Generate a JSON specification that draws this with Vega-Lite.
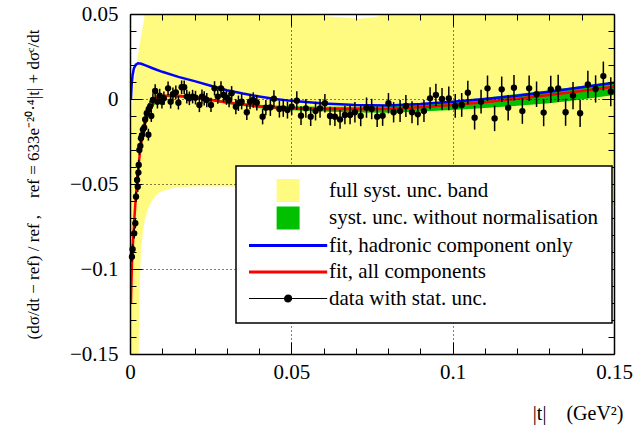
{
  "$schema": "https://vega.github.io/schema/vega-lite/v6.json",
  "width": 484,
  "height": 340,
  "autosize": {"type": "none"},
  "padding": {"left": 130, "top": 14, "right": 30, "bottom": 73},
  "background": "white",
  "config": {
    "view": {"stroke": null},
    "font": "Liberation Serif",
    "axis": {
      "domainColor": "black", "domainWidth": 1.5, "tickColor": "black", "tickWidth": 1,
      "labelFont": "Liberation Serif", "labelFontSize": 21, "labelColor": "black",
      "titleFont": "Liberation Serif", "titleFontWeight": "normal", "titleColor": "black",
      "gridColor": "black", "gridDash": [1, 3], "gridWidth": 1, "zindex": 1,
      "labelFlush": false, "labelOverlap": false, "labelBound": false
    }
  },
  "datasets": {
    "band": [
      {"t": 0.0001, "lo": -0.2, "hi": -0.15},
      {"t": 0.0003, "lo": -0.2, "hi": -0.03},
      {"t": 0.0008, "lo": -0.2, "hi": 0.0},
      {"t": 0.0015, "lo": -0.2, "hi": 0.013},
      {"t": 0.0022, "lo": -0.2, "hi": 0.022},
      {"t": 0.0025, "lo": -0.16, "hi": 0.026},
      {"t": 0.0027, "lo": -0.148, "hi": 0.028},
      {"t": 0.0029, "lo": -0.118, "hi": 0.031},
      {"t": 0.0032, "lo": -0.1, "hi": 0.034},
      {"t": 0.0034, "lo": -0.089, "hi": 0.037},
      {"t": 0.004, "lo": -0.078, "hi": 0.043},
      {"t": 0.0046, "lo": -0.071, "hi": 0.05},
      {"t": 0.0055, "lo": -0.065, "hi": 0.057},
      {"t": 0.007, "lo": -0.059, "hi": 0.064},
      {"t": 0.009, "lo": -0.055, "hi": 0.068},
      {"t": 0.012, "lo": -0.053, "hi": 0.07},
      {"t": 0.014, "lo": -0.052, "hi": 0.068},
      {"t": 0.02, "lo": -0.0515, "hi": 0.062},
      {"t": 0.03, "lo": -0.0515, "hi": 0.056},
      {"t": 0.04, "lo": -0.052, "hi": 0.052},
      {"t": 0.045, "lo": -0.0525, "hi": 0.0505},
      {"t": 0.05, "lo": -0.053, "hi": 0.0498},
      {"t": 0.06, "lo": -0.054, "hi": 0.0488},
      {"t": 0.071, "lo": -0.055, "hi": 0.0472},
      {"t": 0.076, "lo": -0.055, "hi": 0.0482},
      {"t": 0.08, "lo": -0.056, "hi": 0.0502},
      {"t": 0.09, "lo": -0.057, "hi": 0.055},
      {"t": 0.1, "lo": -0.058, "hi": 0.058},
      {"t": 0.12, "lo": -0.06, "hi": 0.062},
      {"t": 0.15, "lo": -0.062, "hi": 0.066}
    ],
    "green": [
      {"t": 0.004, "lo": -0.0208, "hi": -0.0192},
      {"t": 0.006, "lo": -0.0066, "hi": -0.0054},
      {"t": 0.01, "lo": 0.0012, "hi": 0.0024},
      {"t": 0.02, "lo": 0.0003, "hi": 0.0017},
      {"t": 0.03, "lo": -0.0028, "hi": -0.0012},
      {"t": 0.04, "lo": -0.0054, "hi": -0.0034},
      {"t": 0.05, "lo": -0.0066, "hi": -0.0043},
      {"t": 0.06, "lo": -0.0074, "hi": -0.0046},
      {"t": 0.07, "lo": -0.0079, "hi": -0.0046},
      {"t": 0.08, "lo": -0.0081, "hi": -0.0042},
      {"t": 0.09, "lo": -0.0074, "hi": -0.0029},
      {"t": 0.1, "lo": -0.0064, "hi": -0.0012},
      {"t": 0.11, "lo": -0.0053, "hi": 0.0008},
      {"t": 0.12, "lo": -0.004, "hi": 0.003},
      {"t": 0.13, "lo": -0.0025, "hi": 0.0052},
      {"t": 0.14, "lo": -0.0003, "hi": 0.0077},
      {"t": 0.15, "lo": 0.0024, "hi": 0.0102}
    ],
    "blue": [
      {"t": 0.0003, "v": 0.0}, {"t": 0.0005, "v": 0.008}, {"t": 0.0008, "v": 0.014},
      {"t": 0.0012, "v": 0.018}, {"t": 0.0018, "v": 0.0202}, {"t": 0.0025, "v": 0.021},
      {"t": 0.0035, "v": 0.0207}, {"t": 0.005, "v": 0.0196}, {"t": 0.007, "v": 0.0181},
      {"t": 0.01, "v": 0.016}, {"t": 0.015, "v": 0.013}, {"t": 0.02, "v": 0.0105},
      {"t": 0.025, "v": 0.0078}, {"t": 0.03, "v": 0.0052}, {"t": 0.035, "v": 0.0032},
      {"t": 0.04, "v": 0.0015}, {"t": 0.045, "v": 0.0}, {"t": 0.05, "v": -0.0011},
      {"t": 0.06, "v": -0.0026}, {"t": 0.07, "v": -0.0036}, {"t": 0.08, "v": -0.0038},
      {"t": 0.09, "v": -0.003}, {"t": 0.1, "v": -0.0016}, {"t": 0.11, "v": 0.0},
      {"t": 0.12, "v": 0.0019}, {"t": 0.13, "v": 0.0043}, {"t": 0.14, "v": 0.0069},
      {"t": 0.15, "v": 0.0096}
    ],
    "red": [
      {"t": 0.0003, "v": -0.12}, {"t": 0.0006, "v": -0.097}, {"t": 0.001, "v": -0.082},
      {"t": 0.0015, "v": -0.066}, {"t": 0.002, "v": -0.053}, {"t": 0.0025, "v": -0.042},
      {"t": 0.003, "v": -0.033}, {"t": 0.0035, "v": -0.026}, {"t": 0.004, "v": -0.02},
      {"t": 0.005, "v": -0.012}, {"t": 0.006, "v": -0.006}, {"t": 0.007, "v": -0.002},
      {"t": 0.008, "v": 0.0005}, {"t": 0.01, "v": 0.0018}, {"t": 0.013, "v": 0.0022},
      {"t": 0.016, "v": 0.0018}, {"t": 0.02, "v": 0.001}, {"t": 0.025, "v": -0.0005},
      {"t": 0.03, "v": -0.002}, {"t": 0.035, "v": -0.0033}, {"t": 0.04, "v": -0.0043},
      {"t": 0.045, "v": -0.005}, {"t": 0.05, "v": -0.0054}, {"t": 0.06, "v": -0.0059},
      {"t": 0.07, "v": -0.0061}, {"t": 0.08, "v": -0.0059}, {"t": 0.09, "v": -0.0049},
      {"t": 0.1, "v": -0.0036}, {"t": 0.11, "v": -0.0019}, {"t": 0.12, "v": 0.0001},
      {"t": 0.13, "v": 0.0023}, {"t": 0.14, "v": 0.0047}, {"t": 0.15, "v": 0.0072}
    ],
    "pts": [
      {"t": 0.0006, "v": -0.0928, "e": 0.003}, {"t": 0.0008, "v": -0.0884, "e": 0.003},
      {"t": 0.0013, "v": -0.079, "e": 0.003}, {"t": 0.00165, "v": -0.0731, "e": 0.003},
      {"t": 0.00186, "v": -0.0575, "e": 0.003}, {"t": 0.0022, "v": -0.0476, "e": 0.003},
      {"t": 0.0024, "v": -0.0516, "e": 0.003}, {"t": 0.0026, "v": -0.0433, "e": 0.003},
      {"t": 0.0027, "v": -0.0388, "e": 0.003}, {"t": 0.0029, "v": -0.03, "e": 0.003},
      {"t": 0.0032, "v": -0.0276, "e": 0.003}, {"t": 0.0034, "v": -0.0231, "e": 0.003},
      {"t": 0.0037, "v": -0.0212, "e": 0.003}, {"t": 0.004, "v": -0.018, "e": 0.003},
      {"t": 0.0044, "v": -0.0169, "e": 0.0035}, {"t": 0.0047, "v": -0.012, "e": 0.0035},
      {"t": 0.0052, "v": -0.0084, "e": 0.0035}, {"t": 0.0057, "v": -0.021, "e": 0.0035},
      {"t": 0.0058, "v": -0.006, "e": 0.0035}, {"t": 0.0062, "v": -0.0045, "e": 0.0035},
      {"t": 0.0066, "v": -0.01, "e": 0.0035}, {"t": 0.0071, "v": -0.0006, "e": 0.004},
      {"t": 0.0078, "v": 0.0047, "e": 0.004}, {"t": 0.0085, "v": -0.0016, "e": 0.004},
      {"t": 0.0092, "v": 0.002, "e": 0.004}, {"t": 0.0099, "v": -0.0016, "e": 0.004},
      {"t": 0.0105, "v": 0.0004, "e": 0.004}, {"t": 0.0118, "v": 0.0063, "e": 0.004},
      {"t": 0.0126, "v": -0.0016, "e": 0.004}, {"t": 0.0133, "v": 0.0028, "e": 0.004},
      {"t": 0.0142, "v": 0.0039, "e": 0.004}, {"t": 0.015, "v": -0.0022, "e": 0.004},
      {"t": 0.016, "v": 0.0069, "e": 0.004}, {"t": 0.0168, "v": 0.0069, "e": 0.004},
      {"t": 0.0176, "v": 0.0014, "e": 0.004}, {"t": 0.0184, "v": 0.0004, "e": 0.004},
      {"t": 0.0194, "v": 0.0014, "e": 0.004}, {"t": 0.0203, "v": 0.0008, "e": 0.004},
      {"t": 0.0215, "v": -0.0035, "e": 0.0042}, {"t": 0.0223, "v": 0.0014, "e": 0.0042},
      {"t": 0.023, "v": 0.0004, "e": 0.0042}, {"t": 0.0238, "v": -0.0006, "e": 0.0042},
      {"t": 0.0251, "v": -0.0035, "e": 0.0042}, {"t": 0.0262, "v": 0.0063, "e": 0.0042},
      {"t": 0.0272, "v": 0.0014, "e": 0.0042}, {"t": 0.0282, "v": 0.0063, "e": 0.0042},
      {"t": 0.029, "v": 0.0024, "e": 0.0042}, {"t": 0.0299, "v": 0.0008, "e": 0.0042},
      {"t": 0.0307, "v": -0.0006, "e": 0.0042}, {"t": 0.0315, "v": 0.0034, "e": 0.0042},
      {"t": 0.0328, "v": -0.0045, "e": 0.0045}, {"t": 0.0336, "v": -0.0025, "e": 0.0045},
      {"t": 0.0346, "v": -0.0016, "e": 0.0045}, {"t": 0.0362, "v": -0.0078, "e": 0.0045},
      {"t": 0.0372, "v": -0.0016, "e": 0.0045}, {"t": 0.0382, "v": -0.0006, "e": 0.0045},
      {"t": 0.0393, "v": -0.0022, "e": 0.0045}, {"t": 0.0411, "v": -0.0104, "e": 0.0045},
      {"t": 0.0421, "v": -0.0051, "e": 0.0045}, {"t": 0.0435, "v": -0.005, "e": 0.005},
      {"t": 0.0446, "v": 0.0002, "e": 0.005}, {"t": 0.0463, "v": -0.0059, "e": 0.005},
      {"t": 0.0475, "v": -0.0055, "e": 0.005}, {"t": 0.0488, "v": -0.0065, "e": 0.005},
      {"t": 0.0501, "v": -0.0045, "e": 0.005}, {"t": 0.0517, "v": -0.001, "e": 0.0055},
      {"t": 0.053, "v": -0.0098, "e": 0.0055}, {"t": 0.0545, "v": -0.0055, "e": 0.0055},
      {"t": 0.056, "v": -0.0104, "e": 0.0055}, {"t": 0.0575, "v": -0.0071, "e": 0.0055},
      {"t": 0.0589, "v": -0.0055, "e": 0.0055}, {"t": 0.0604, "v": -0.0025, "e": 0.0055},
      {"t": 0.062, "v": -0.01, "e": 0.0055}, {"t": 0.0635, "v": -0.0104, "e": 0.0055},
      {"t": 0.0651, "v": -0.012, "e": 0.0055}, {"t": 0.0666, "v": -0.0094, "e": 0.0055},
      {"t": 0.0682, "v": -0.0094, "e": 0.0055}, {"t": 0.0697, "v": -0.0078, "e": 0.006},
      {"t": 0.0715, "v": -0.01, "e": 0.006}, {"t": 0.0733, "v": -0.0051, "e": 0.006},
      {"t": 0.0749, "v": -0.0059, "e": 0.006}, {"t": 0.0766, "v": -0.0104, "e": 0.006},
      {"t": 0.0783, "v": -0.0098, "e": 0.006}, {"t": 0.0801, "v": -0.0025, "e": 0.006},
      {"t": 0.0817, "v": -0.0078, "e": 0.006}, {"t": 0.0837, "v": -0.0071, "e": 0.0065},
      {"t": 0.0855, "v": -0.0041, "e": 0.0065}, {"t": 0.0874, "v": -0.0078, "e": 0.0065},
      {"t": 0.0892, "v": -0.009, "e": 0.0065}, {"t": 0.0911, "v": -0.0071, "e": 0.0065},
      {"t": 0.093, "v": 0.0004, "e": 0.0065}, {"t": 0.0948, "v": 0.0024, "e": 0.0065},
      {"t": 0.0967, "v": 0.0, "e": 0.0065}, {"t": 0.0988, "v": 0.0004, "e": 0.007},
      {"t": 0.1008, "v": -0.0041, "e": 0.007}, {"t": 0.1028, "v": -0.0035, "e": 0.007},
      {"t": 0.1047, "v": 0.0037, "e": 0.007}, {"t": 0.1068, "v": -0.011, "e": 0.007},
      {"t": 0.1088, "v": -0.0016, "e": 0.007}, {"t": 0.1108, "v": 0.0063, "e": 0.0075},
      {"t": 0.113, "v": -0.0114, "e": 0.0075}, {"t": 0.1152, "v": 0.0057, "e": 0.0075},
      {"t": 0.1172, "v": -0.0051, "e": 0.0075}, {"t": 0.119, "v": 0.0066, "e": 0.0075},
      {"t": 0.1216, "v": -0.0071, "e": 0.0075}, {"t": 0.1237, "v": 0.0063, "e": 0.0075},
      {"t": 0.126, "v": 0.0028, "e": 0.0075}, {"t": 0.1282, "v": -0.008, "e": 0.008},
      {"t": 0.1304, "v": 0.0057, "e": 0.008}, {"t": 0.1327, "v": 0.0063, "e": 0.008},
      {"t": 0.135, "v": -0.0078, "e": 0.008}, {"t": 0.1373, "v": 0.002, "e": 0.008},
      {"t": 0.1395, "v": -0.0084, "e": 0.008}, {"t": 0.1419, "v": 0.0086, "e": 0.008},
      {"t": 0.1443, "v": 0.0059, "e": 0.008}, {"t": 0.1467, "v": 0.0135, "e": 0.0085},
      {"t": 0.149, "v": 0.0043, "e": 0.0085}
    ]
  },
  "layer": [
    {
      "data": {"name": "band"},
      "mark": {"type": "area", "clip": true, "color": "#fffa80"},
      "encoding": {
        "x": {
          "field": "t", "type": "quantitative",
          "scale": {"domain": [0, 0.15], "nice": false, "zero": false},
          "axis": {
            "orient": "bottom", "zindex": 1,
            "values": [0, 0.01, 0.02, 0.03, 0.04, 0.05, 0.06, 0.07, 0.08, 0.09, 0.1, 0.11, 0.12, 0.13, 0.14, 0.15],
            "tickSize": {"condition": {"test": "round(datum.value*100)%5==0", "value": -12}, "value": -6},
            "grid": true,
            "gridOpacity": {"condition": {"test": "round(datum.value*100)%5==0", "value": 1}, "value": 0},
            "labelExpr": "round(datum.value*100)%5==0 ? format(datum.value,'') : ''",
            "labelFont": "Liberation Serif", "labelFontSize": 21,
            "labelPadding": 19,
            "title": "|t|\u00a0\u00a0\u00a0\u00a0(GeV²)",
            "titleFont": "Liberation Serif",
            "titleFontSize": 20,
            "titleAnchor": "end",
            "titleAlign": "right",
            "titleBaseline": "middle",
            "titleX": 493,
            "titleY": 59
          }
        },
        "y": {
          "field": "hi", "type": "quantitative",
          "scale": {"domain": [-0.15, 0.05], "nice": false, "zero": false},
          "axis": {
            "orient": "left", "zindex": 1,
            "values": [-0.15, -0.14, -0.13, -0.12, -0.11, -0.1, -0.09, -0.08, -0.07, -0.06, -0.05, -0.04, -0.03, -0.02, -0.01, 0, 0.01, 0.02, 0.03, 0.04, 0.05],
            "tickSize": {"condition": {"test": "round(datum.value*100)%5==0", "value": -12}, "value": -6},
            "grid": true,
            "gridOpacity": {"condition": {"test": "round(datum.value*100)%5==0", "value": 1}, "value": 0},
            "labelExpr": "round(datum.value*100)%5==0 ? format(datum.value,'') : ''",
            "labelFont": "Liberation Serif", "labelFontSize": 21,
            "labelPadding": 24,
            "title": "(dσ/dt − ref) / ref ,\u00a0\u00a0\u00a0\u00a0ref = 633e⁻²⁰·⁴|t| + dσᶜ/dt",
            "titleFont": "Liberation Serif",
            "titleFontSize": 17,
            "titleAngle": 270,
            "titleAlign": "center",
            "titleBaseline": "middle",
            "titleX": -97,
            "titleY": 170
          }
        },
        "y2": {"field": "lo"},
        "color": {
          "datum": "full syst. unc. band", "type": "nominal",
          "scale": {
            "domain": ["full syst. unc. band", "syst. unc. without normalisation", "fit, hadronic component only", "fit, all components", "data with stat. unc."],
            "range": ["#fffa80", "#00c000", "#0000ff", "#ff0000", "#000000"]
          },
          "legend": {
            "orient": "none", "legendX": 106, "legendY": 152, "title": null,
            "fillColor": "white", "strokeColor": "black", "padding": 14,
            "labelFont": "Liberation Serif", "labelFontSize": 21, "labelColor": "black",
            "labelLimit": 0, "symbolSize": 529, "labelOffset": 58, "rowPadding": 4.5, "zindex": 3,
            "encode": {
              "legend": {"update": {"strokeWidth": {"value": 1.5}}},
              "symbols": {
                "update": {
                  "shape": {"signal": "datum.value == 'full syst. unc. band' || datum.value == 'syst. unc. without normalisation' ? 'M1.4,-1H3.4V1H1.4Z' : datum.value == 'data with stat. unc.' ? 'M-1,0H5.8M2.7,0A0.3,0.3 0 1 1 2.1,0A0.3,0.3 0 1 1 2.7,0Z' : 'M-1,0H5.8'"},
                  "fill": {"scale": "color", "field": "value"},
                  "stroke": {"scale": "color", "field": "value"},
                  "strokeWidth": {"signal": "datum.value == 'fit, hadronic component only' || datum.value == 'fit, all components' ? 3 : datum.value == 'data with stat. unc.' ? 1.2 : 0"},
                  "opacity": {"value": 1},
                  "fillOpacity": {"value": 1},
                  "strokeOpacity": {"value": 1}
                }
              }
            }
          }
        }
      }
    },
    {
      "data": {"name": "green"},
      "mark": {"type": "area", "clip": true},
      "encoding": {
        "x": {"field": "t", "type": "quantitative", "axis": null},
        "y": {"field": "hi", "type": "quantitative", "axis": null},
        "y2": {"field": "lo"},
        "color": {"datum": "syst. unc. without normalisation", "type": "nominal"}
      }
    },
    {
      "data": {"name": "blue"},
      "mark": {"type": "line", "clip": true, "strokeWidth": 2.5},
      "encoding": {
        "x": {"field": "t", "type": "quantitative", "axis": null},
        "y": {"field": "v", "type": "quantitative", "axis": null},
        "color": {"datum": "fit, hadronic component only", "type": "nominal"}
      }
    },
    {
      "data": {"name": "red"},
      "mark": {"type": "line", "clip": true, "strokeWidth": 2.5},
      "encoding": {
        "x": {"field": "t", "type": "quantitative", "axis": null},
        "y": {"field": "v", "type": "quantitative", "axis": null},
        "color": {"datum": "fit, all components", "type": "nominal"}
      }
    },
    {
      "data": {"name": "pts"},
      "mark": {"type": "errorbar", "color": "black", "thickness": 1.5},
      "encoding": {
        "x": {"field": "t", "type": "quantitative", "axis": null},
        "y": {"field": "v", "type": "quantitative", "axis": null},
        "yError": {"field": "e"}
      }
    },
    {
      "data": {"name": "pts"},
      "mark": {"type": "point", "shape": "circle", "filled": true, "size": 40, "opacity": 1},
      "encoding": {
        "x": {
          "field": "t", "type": "quantitative",
          "axis": {
            "orient": "top", "labels": false, "title": null, "grid": false, "zindex": 1,
            "values": [0, 0.01, 0.02, 0.03, 0.04, 0.05, 0.06, 0.07, 0.08, 0.09, 0.1, 0.11, 0.12, 0.13, 0.14, 0.15],
            "tickSize": {"condition": {"test": "round(datum.value*100)%5==0", "value": -12}, "value": -6}
          }
        },
        "y": {
          "field": "v", "type": "quantitative",
          "axis": {
            "orient": "right", "labels": false, "title": null, "grid": false, "zindex": 1,
            "values": [-0.15, -0.14, -0.13, -0.12, -0.11, -0.1, -0.09, -0.08, -0.07, -0.06, -0.05, -0.04, -0.03, -0.02, -0.01, 0, 0.01, 0.02, 0.03, 0.04, 0.05],
            "tickSize": {"condition": {"test": "round(datum.value*100)%5==0", "value": -12}, "value": -6}
          }
        },
        "color": {"datum": "data with stat. unc.", "type": "nominal"}
      }
    }
  ],
  "resolve": {"axis": {"x": "independent", "y": "independent"}}
}
